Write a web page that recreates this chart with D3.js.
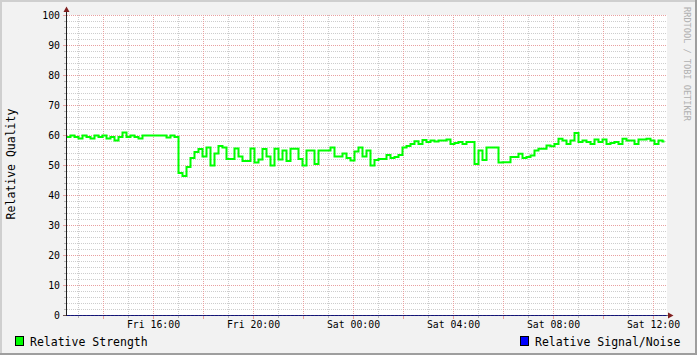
<!DOCTYPE html>
<html><head><meta charset="utf-8">
<script src="https://cdn.jsdelivr.net/npm/d3@7"></script>
<style>html,body{margin:0;padding:0;background:#f2f2f2;}svg{display:block;}</style>
</head><body>
<script>
// ---- data ----
const startTime = new Date(2010, 0, 1, 12, 31, 12); // Fri
const stepMinutes = 9.6;
const relativeStrength = [
 59.5,60,59.5,59,60,59.5,59,60,59.5,60,
 59,59.5,58.3,59.5,61,59.5,60,59.5,59,60,
 60,60,60,60,60,59.3,60,59.5,47.5,46.5,
 49.5,52.5,54.5,55.5,53,56,50,54,56.5,56,
 52.2,52.2,55.7,53,51.5,51.5,55.7,51,52,55.5,
 53,50,55.6,52,55,51.5,55.6,55.6,52.2,50,
 55,55,50.5,55,55,55,56,53,53,54,
 52.5,51.7,54.7,56,53,55,50,51.8,52.2,52.2,
 53.5,52.5,52.8,53.5,56,56.5,57.2,58.1,57.2,58.5,
 57.8,58.3,58,58.3,58.3,58.7,57.2,57.5,57.8,57.2,
 57.8,57.8,50.5,55,51.8,56,56,56,51,51.1,
 51.1,52.8,52.8,53.9,52.5,52.8,53.3,55,55.6,55.6,
 56.7,56.4,57.2,58.9,58.3,57.2,58.3,60.8,57.8,58.3,
 57.8,57.2,58.7,57.8,58.7,57.2,57.5,57.8,57.2,58.9,
 58.3,58.3,57.2,58.7,58.7,58.9,58.3,57.2,58.3,58
];
const relativeSignalNoise = relativeStrength.map(() => 0);
const yTicks = [0,10,20,30,40,50,60,70,80,90,100];
const seriesNames = ["Relative Strength", "Relative Signal/Noise"];
const seriesColors = ["#00ff00", "#0000ff"];

// ---- layout ----
const W = 697, H = 355;
const svg = d3.select("body").append("svg").attr("width", W).attr("height", H);
const FONT = "DejaVu Sans Mono";

// background and 3D border
svg.append("rect").attr("x",0).attr("y",0).attr("width",W).attr("height",H).attr("fill","#f2f2f2");
svg.append("path").attr("d",`M0,0H${W}V2H2V${H}H0Z`).attr("fill","#cfcfcf");
svg.append("path").attr("d",`M${W},${H}H0V${H-2}H${W-2}V0H${W}Z`).attr("fill","#9e9e9e");

const endTime = new Date(startTime.getTime() + 24*3600*1000);
const x = d3.scaleTime().domain([startTime, endTime]).range([66.5, 666.5]);
const y = d3.scaleLinear().domain([0, 100]).range([315.5, 15.5]);

// canvas
svg.append("rect").attr("x",67).attr("y",15).attr("width",600).attr("height",300).attr("fill","#ffffff");

const g = svg.append("g");
const minorCol = "#cdcdcd", majorCol = "#e8a0a0";
// horizontal grid
const minorY = d3.range(2, 100, 2).filter(v => v % 10 !== 0);
g.selectAll(".hmin").data(minorY).join("line")
  .attr("x1",67).attr("x2",667).attr("y1",d=>y(d)).attr("y2",d=>y(d))
  .attr("stroke",minorCol).attr("stroke-dasharray","1,1");
g.selectAll(".hminTick").data(minorY).join("line")
  .attr("x1",64).attr("x2",67).attr("y1",d=>y(d)).attr("y2",d=>y(d))
  .attr("stroke","#b8b8b8");
g.selectAll(".hmaj").data(yTicks.filter(v=>v>0)).join("line")
  .attr("x1",67).attr("x2",667).attr("y1",d=>y(d)).attr("y2",d=>y(d))
  .attr("stroke",majorCol).attr("stroke-dasharray","1,1");
g.selectAll(".hmajTick").data(yTicks).join("line")
  .attr("x1",63).attr("x2",67).attr("y1",d=>y(d)).attr("y2",d=>y(d))
  .attr("stroke",majorCol);

// vertical grid
const hours = d3.timeHour.range(startTime, endTime);
const minorX = hours.filter(d => d.getHours() % 2 !== 0);
const majorX = hours.filter(d => d.getHours() % 2 === 0);
g.selectAll(".vmin").data(minorX).join("line")
  .attr("x1",d=>x(d)).attr("x2",d=>x(d)).attr("y1",15).attr("y2",315)
  .attr("stroke",minorCol).attr("stroke-dasharray","1,1");
g.selectAll(".vminTick").data(minorX).join("line")
  .attr("x1",d=>x(d)).attr("x2",d=>x(d)).attr("y1",315).attr("y2",318)
  .attr("stroke","#b8b8b8");
g.selectAll(".vmaj").data(majorX).join("line")
  .attr("x1",d=>x(d)).attr("x2",d=>x(d)).attr("y1",15).attr("y2",315)
  .attr("stroke",majorCol).attr("stroke-dasharray","1,1");
g.selectAll(".vmajTick").data(majorX).join("line")
  .attr("x1",d=>x(d)).attr("x2",d=>x(d)).attr("y1",315).attr("y2",319)
  .attr("stroke",majorCol);

// series
const timeAt = i => new Date(startTime.getTime() + i*stepMinutes*60000);
function addSeries(vals, color, width, endIndex) {
  const pts = vals.map((v,i)=>[timeAt(i), v]);
  pts.push([timeAt(endIndex), vals[vals.length-1]]);
  const line = d3.line().x(d=>x(d[0])).y(d=>y(d[1])).curve(d3.curveStepAfter);
  svg.append("path").datum(pts).attr("d", line).attr("fill","none")
    .attr("stroke", color).attr("stroke-width", width);
}
addSeries(relativeSignalNoise, seriesColors[1], 1, relativeSignalNoise.length);
addSeries(relativeStrength, seriesColors[0], 2, relativeStrength.length - 0.5);

// axes
svg.append("line").attr("x1",66.5).attr("x2",66.5).attr("y1",316).attr("y2",11)
  .attr("stroke","#1f1f1f");
svg.append("line").attr("x1",63).attr("x2",670).attr("y1",315.5).attr("y2",315.5)
  .attr("stroke","#1f1f1f").attr("stroke-opacity",0.6);
svg.append("path").attr("d","M63.5,12L66.5,6.5L69.5,12Z").attr("fill","#801f1f");
svg.append("path").attr("d","M668,312.5L673.5,315.5L668,318.5Z").attr("fill","#801f1f");

// y labels
svg.selectAll(".yl").data(yTicks).join("text")
  .attr("x",60).attr("y",d=>y(d)+3.5).attr("text-anchor","end")
  .attr("font-family",FONT).attr("font-size","9.8px").attr("fill","#000")
  .text(d=>d);

// x labels
const labelTimes = hours.filter(d => d.getHours() % 4 === 0);
const fmt = d3.timeFormat("%a %H:%M");
svg.selectAll(".xl").data(labelTimes).join("text")
  .attr("x",d=>x(d)).attr("y",328).attr("text-anchor","middle")
  .attr("font-family",FONT).attr("font-size","9.8px").attr("fill","#000")
  .text(d=>fmt(d));

// y axis title
svg.append("text").attr("transform","translate(15,164) rotate(-90)")
  .attr("text-anchor","middle").attr("font-family",FONT).attr("font-size","11.5px")
  .attr("fill","#000").text("Relative Quality");

// watermark
svg.append("text").attr("transform","translate(684,64) rotate(90)")
  .attr("text-anchor","middle").attr("font-family",FONT).attr("font-size","8.6px")
  .attr("fill","#b0b0b0").text("RRDTOOL / TOBI OETIKER");

// legend
const legendX = [15, 520];
seriesNames.forEach((name, i) => {
  svg.append("rect").attr("x",legendX[i]+0.5).attr("y",336.5).attr("width",8).attr("height",9)
    .attr("fill",seriesColors[i]).attr("stroke","#000");
  svg.append("text").attr("x",legendX[i]+15).attr("y",345.5)
    .attr("font-family",FONT).attr("font-size","11.5px").attr("fill","#000").text(name);
});
</script>
</body></html>
